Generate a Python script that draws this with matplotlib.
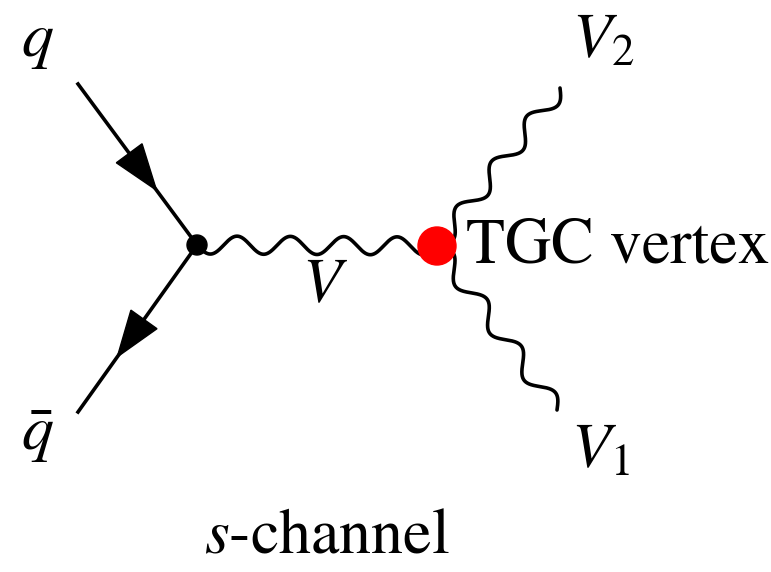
import numpy as np
import matplotlib
matplotlib.use("Agg")
import matplotlib.pyplot as plt
from matplotlib.patches import Polygon, Circle

plt.rcParams["mathtext.fontset"] = "stix"
plt.rcParams["font.family"] = "STIXGeneral"

# ── Diagram geometry (pixel coordinates of the picture) ─────────────────────
qq_vertex  = (197, 245)
tgc_vertex = (437, 246)
q_start    = (78, 84)
qbar_end   = (78, 412)
v2_end     = (560, 88)
v1_end     = (557, 410)

# arrow head position along each fermion line (fraction of length)
arrow_pos  = [0.66, 0.67]

labels     = [r"$q$", r"$\bar{q}$", r"$V$", r"$V_2$", r"$V_1$"]
label_xy   = [(37, 42), (37, 436), (325, 287), (603, 42), (600, 452)]

# ── Helpers ──────────────────────────────────────────────────────────────────
def wavy(ax, p0, p1, n_periods, amp=9, lw=2.6):
    p0, p1 = np.array(p0, float), np.array(p1, float)
    d = p1 - p0
    L = np.hypot(*d)
    u = d / L
    n = np.array([-u[1], u[0]])
    t = np.linspace(0, 1, 600)
    off = amp * np.sin(2 * np.pi * n_periods * t)
    pts = p0[None, :] + t[:, None] * d[None, :] + off[:, None] * n[None, :]
    ax.plot(pts[:, 0], pts[:, 1], color="black", lw=lw, solid_capstyle="round")

def fermion(ax, p0, p1, frac, head_len=46, head_w=32, lw=2.6):
    p0, p1 = np.array(p0, float), np.array(p1, float)
    ax.plot([p0[0], p1[0]], [p0[1], p1[1]], color="black", lw=lw)
    d = p1 - p0
    u = d / np.hypot(*d)
    n = np.array([-u[1], u[0]])
    tip = p0 + frac * d
    base = tip - head_len * u
    tri = [tip, base + n * head_w / 2, base - n * head_w / 2]
    ax.add_patch(Polygon(tri, closed=True, color="black", zorder=3))

# ── Plot ─────────────────────────────────────────────────────────────────────
fig = plt.figure(figsize=(7.71, 5.72), dpi=100)
ax = fig.add_axes([0, 0, 1, 1])
ax.set_xlim(0, 771)
ax.set_ylim(572, 0)
ax.axis("off")

fermion(ax, q_start, qq_vertex, arrow_pos[0])
fermion(ax, qq_vertex, qbar_end, arrow_pos[1])

wavy(ax, qq_vertex, tgc_vertex, 4.5)
wavy(ax, tgc_vertex, v2_end, 3.5)
wavy(ax, tgc_vertex, v1_end, -3.5)

ax.add_patch(Circle(qq_vertex, 10, color="black", zorder=4))
ax.add_patch(Circle(tgc_vertex, 19, color="#ff0000", zorder=4))

for txt, (x, y) in zip(labels, label_xy):
    ax.text(x, y, txt, fontsize=46, ha="center", va="center")

ax.text(466, 247, "TGC vertex", fontsize=46, ha="left", va="center")
ax.text(327, 537, r"$s$-channel", fontsize=46, ha="center", va="center")

fig.savefig("out.png", dpi=100)
